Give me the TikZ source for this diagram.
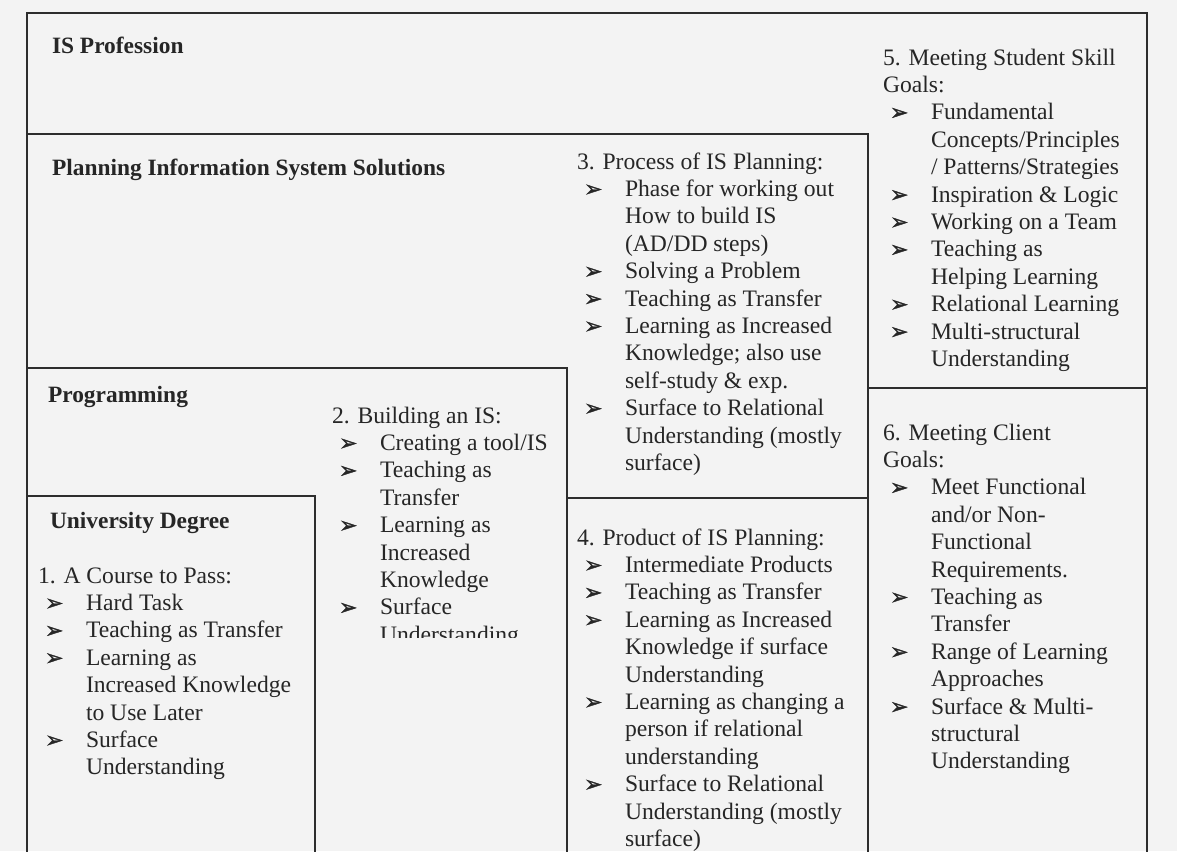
\documentclass[tikz,border=0pt]{standalone}
\usepackage{fontspec}
\setmainfont{Liberation Serif}
\newfontfamily\symfont[FakeBold=1.6]{DejaVu Sans}
\definecolor{paper}{RGB}{243,243,243}
\definecolor{ink}{RGB}{38,38,38}
\definecolor{rule}{RGB}{45,45,45}
% arrowhead bullet and list lines
\newcommand\bul{{\symfont\fontsize{22}{22}\selectfont\char"27A2}}
\newcommand\itm[1]{\makebox[48pt][l]{\hspace*{7pt}\bul}#1}
\newcommand\cnt[1]{\hspace*{48pt}#1}
\begin{document}
\begin{tikzpicture}[x=1pt,y=-1pt,
  every node/.style={inner sep=0pt,outer sep=0pt,text=ink},
  % the base anchor of a multi-line block sits on its last line
  body/.style={anchor=base west,align=left,font=\fontsize{23.6}{27.4}\selectfont},
  head/.style={anchor=base west,font=\fontsize{23.4}{27.4}\selectfont\bfseries},
  border/.style={draw=rule,line width=1.3pt,line cap=rect}]
\useasboundingbox (0,0) rectangle (1177,851);
\fill[paper] (0,0) rectangle (1177,851);

% corner points of the nested regions
\coordinate (otl) at (27,13);
\coordinate (otr) at (1147,13);
\coordinate (obl) at (27,851);
\coordinate (obr) at (1147,851);
\coordinate (pl) at (27,134);
\coordinate (pr) at (868,134);
\coordinate (pb) at (868,851);
\coordinate (sl) at (868,388);
\coordinate (sr) at (1147,388);
\coordinate (gl) at (27,368);
\coordinate (gr) at (567,368);
\coordinate (gb) at (567,851);
\coordinate (ml) at (567,498);
\coordinate (mr) at (868,498);
\coordinate (ul) at (27,496);
\coordinate (ur) at (315,496);
\coordinate (ub) at (315,851);

\draw[border] (obl) -- (otl) -- (otr) -- (obr);
\draw[border] (pl) -- (pr) -- (pb);
\draw[border] (sl) -- (sr);
\draw[border] (gl) -- (gr) -- (gb);
\draw[border] (ml) -- (mr);
\draw[border] (ul) -- (ur) -- (ub);

% region headings
\node[head] (hprof) at (52,54) {IS Profession};
\node[head] (hplan) at (52,175) {Planning Information System Solutions};
\node[head] (hprog) at (48,402) {Programming};
\node[head] (huni) at (50,528) {University Degree};

% 1. course (first baseline 583, 8 lines)
\node[body] (t1) at (38,774.8) {1. A Course to Pass:\\
\itm{Hard Task}\\
\itm{Teaching as Transfer}\\
\itm{Learning as}\\
\cnt{Increased Knowledge}\\
\cnt{to Use Later}\\
\itm{Surface}\\
\cnt{Understanding}};

% 2. building (first baseline 423, 9 lines, cut off at the bottom)
\begin{scope}
\clip (315,368) rectangle (567,637);
\node[body] (t2) at (332,642.2) {2. Building an IS:\\
\itm{Creating a tool/IS}\\
\itm{Teaching as}\\
\cnt{Transfer}\\
\itm{Learning as}\\
\cnt{Increased}\\
\cnt{Knowledge}\\
\itm{Surface}\\
\cnt{Understanding}};
\end{scope}

% 3. process (first baseline 169, 12 lines)
\node[body] (t3) at (577,470.4) {3. Process of IS Planning:\\
\itm{Phase for working out}\\
\cnt{How to build IS}\\
\cnt{(AD/DD steps)}\\
\itm{Solving a Problem}\\
\itm{Teaching as Transfer}\\
\itm{Learning as Increased}\\
\cnt{Knowledge; also use}\\
\cnt{self-study \& exp.}\\
\itm{Surface to Relational}\\
\cnt{Understanding (mostly}\\
\cnt{surface)}};

% 4. product (first baseline 545, 12 lines)
\node[body] (t4) at (577,846.4) {4. Product of IS Planning:\\
\itm{Intermediate Products}\\
\itm{Teaching as Transfer}\\
\itm{Learning as Increased}\\
\cnt{Knowledge if surface}\\
\cnt{Understanding}\\
\itm{Learning as changing a}\\
\cnt{person if relational}\\
\cnt{understanding}\\
\itm{Surface to Relational}\\
\cnt{Understanding (mostly}\\
\cnt{surface)}};

% 5. student skills (first baseline 65, 12 lines)
\node[body] (t5) at (883,366.4) {5. Meeting Student Skill\\
Goals:\\
\itm{Fundamental}\\
\cnt{Concepts/Principles}\\
\cnt{/ Patterns/Strategies}\\
\itm{Inspiration \& Logic}\\
\itm{Working on a Team}\\
\itm{Teaching as}\\
\cnt{Helping Learning}\\
\itm{Relational Learning}\\
\itm{Multi-structural}\\
\cnt{Understanding}};

% 6. client (first baseline 440, 13 lines)
\node[body] (t6) at (883,768.8) {6. Meeting Client\\
Goals:\\
\itm{Meet Functional}\\
\cnt{and/or Non-}\\
\cnt{Functional}\\
\cnt{Requirements.}\\
\itm{Teaching as}\\
\cnt{Transfer}\\
\itm{Range of Learning}\\
\cnt{Approaches}\\
\itm{Surface \& Multi-}\\
\cnt{structural}\\
\cnt{Understanding}};
\end{tikzpicture}
\end{document}
